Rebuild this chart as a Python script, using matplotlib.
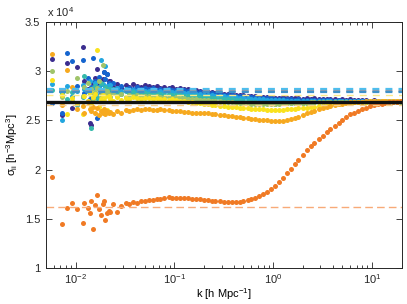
import numpy as np
import matplotlib
matplotlib.use('Agg')
from matplotlib import pyplot as plt

plt.rcParams['font.family'] = ['Liberation Sans', 'DejaVu Sans']
plt.rcParams['mathtext.fontset'] = 'custom'
plt.rcParams['mathtext.rm'] = 'Liberation Sans'
plt.rcParams['mathtext.it'] = 'Liberation Sans:italic'
plt.rcParams['lines.scale_dashes'] = False

# wavenumbers (h/Mpc): sparse low-k bins, then the dense part
k_low = [0.0058, 0.0072, 0.0081, 0.0091, 0.0102, 0.0118, 0.0122, 0.0132, 0.0138, 0.0143,
         0.0149, 0.0155, 0.0166, 0.0173, 0.0180, 0.0187, 0.0194, 0.0200, 0.0208, 0.0215]
k_high = [0.022, 0.024, 0.026, 0.029, 0.032, 0.035, 0.038, 0.042, 0.046, 0.050,
          0.055, 0.060, 0.066, 0.072, 0.079, 0.087, 0.095, 0.104, 0.114, 0.125,
          0.137, 0.150, 0.165, 0.18, 0.20, 0.22, 0.24, 0.26, 0.29, 0.32,
          0.35, 0.38, 0.42, 0.46, 0.50, 0.55, 0.60, 0.66, 0.72, 0.79,
          0.87, 0.95, 1.04, 1.14, 1.25, 1.37, 1.50, 1.65, 1.8, 2.0,
          2.2, 2.4, 2.6, 2.9, 3.2, 3.5, 3.8, 4.2, 4.6, 5.0,
          5.5, 6.0, 6.6, 7.2, 7.9, 8.7, 9.5, 10.4, 11.4, 12.5,
          13.7, 15.0, 16.5, 18.0, 19.8]

# sigma_ii in units of 1e4
indigo_low = [3.12, 2.55, 3.08, 2.63, 3.04, 3.24, 2.90, 2.82, 2.47, 2.45,
              2.88, 2.93, 3.02, 2.86, 2.79, 2.92, 2.99, 2.84, 2.97, 2.90]
indigo_high = [2.90, 2.84, 2.87, 2.83, 2.86, 2.84, 2.87, 2.85, 2.84, 2.86,
               2.85, 2.84, 2.85, 2.83, 2.84, 2.83, 2.84, 2.82, 2.83, 2.82,
               2.82, 2.81, 2.81, 2.80, 2.80, 2.79, 2.79, 2.78, 2.78, 2.77,
               2.77, 2.77, 2.76, 2.76, 2.76, 2.75, 2.75, 2.75, 2.74, 2.74,
               2.74, 2.74, 2.73, 2.73, 2.74, 2.73, 2.73, 2.73, 2.73, 2.72,
               2.73, 2.72, 2.73, 2.72, 2.72, 2.72, 2.72, 2.72, 2.71, 2.72,
               2.71, 2.72, 2.71, 2.71, 2.71, 2.71, 2.70, 2.71, 2.70, 2.70,
               2.70, 2.70, 2.70, 2.70, 2.70]

blue_low = [2.68, 2.58, 3.18, 3.10, 2.85, 3.11, 2.78, 2.93, 2.72, 2.84,
            3.13, 2.90, 2.52, 2.94, 2.87, 2.80, 2.99, 2.92, 2.97, 2.88]
blue_high = [2.80, 2.88, 2.82, 2.85, 2.81, 2.83, 2.82, 2.84, 2.82, 2.83,
             2.82, 2.83, 2.81, 2.82, 2.81, 2.82, 2.81, 2.81, 2.80, 2.81,
             2.80, 2.80, 2.79, 2.79, 2.78, 2.78, 2.78, 2.77, 2.77, 2.76,
             2.76, 2.76, 2.75, 2.75, 2.75, 2.74, 2.74, 2.74, 2.73, 2.73,
             2.73, 2.73, 2.72, 2.72, 2.72, 2.72, 2.72, 2.71, 2.72, 2.71,
             2.71, 2.71, 2.71, 2.71, 2.71, 2.71, 2.71, 2.70, 2.71, 2.70,
             2.70, 2.70, 2.70, 2.70, 2.70, 2.70, 2.70, 2.70, 2.70, 2.70,
             2.70, 2.70, 2.70, 2.70, 2.70]

lblue_low = [2.87, 2.50, 2.85, 2.75, 2.80, 2.86, 2.82, 2.70, 2.90, 2.78,
             2.83, 2.88, 2.76, 2.84, 3.11, 2.87, 2.81, 3.05, 2.85, 2.83]
lblue_high = [2.86, 2.78, 2.83, 2.80, 2.82, 2.79, 2.81, 2.80, 2.81, 2.80,
              2.80, 2.81, 2.79, 2.80, 2.79, 2.80, 2.79, 2.79, 2.78, 2.78,
              2.78, 2.78, 2.77, 2.77, 2.76, 2.76, 2.76, 2.75, 2.75, 2.75,
              2.74, 2.74, 2.74, 2.73, 2.73, 2.73, 2.72, 2.72, 2.72, 2.72,
              2.71, 2.71, 2.71, 2.71, 2.71, 2.70, 2.70, 2.70, 2.70, 2.70,
              2.70, 2.70, 2.70, 2.70, 2.70, 2.70, 2.70, 2.70, 2.70, 2.70,
              2.70, 2.70, 2.70, 2.70, 2.70, 2.70, 2.70, 2.70, 2.70, 2.70,
              2.70, 2.70, 2.70, 2.70, 2.70]

teal_low = [2.81, 2.78, 2.72, 2.79, 2.66, 2.74, 2.95, 2.80, 2.68, 2.42,
            2.77, 2.85, 2.73, 2.82, 2.88, 2.76, 2.80, 2.84, 2.79, 2.82]
teal_high = [2.76, 2.82, 2.79, 2.77, 2.80, 2.78, 2.79, 2.77, 2.78, 2.78,
             2.77, 2.78, 2.77, 2.77, 2.76, 2.77, 2.76, 2.76, 2.76, 2.75,
             2.75, 2.75, 2.75, 2.74, 2.74, 2.74, 2.73, 2.73, 2.73, 2.72,
             2.72, 2.72, 2.71, 2.71, 2.70, 2.70, 2.69, 2.69, 2.68, 2.68,
             2.68, 2.68, 2.67, 2.68, 2.68, 2.68, 2.68, 2.68, 2.68, 2.68,
             2.68, 2.69, 2.69, 2.69, 2.69, 2.69, 2.69, 2.69, 2.69, 2.69,
             2.69, 2.69, 2.69, 2.69, 2.69, 2.69, 2.69, 2.69, 2.69, 2.69,
             2.69, 2.69, 2.69, 2.69, 2.69]

green_low = [3.00, 2.74, 2.80, 2.70, 2.93, 2.75, 2.84, 2.88, 2.77, 2.82,
             2.72, 2.79, 2.83, 2.90, 2.76, 3.06, 2.81, 2.78, 2.80, 2.77]
green_high = [2.74, 2.79, 2.75, 2.77, 2.74, 2.76, 2.75, 2.76, 2.75, 2.75,
              2.75, 2.74, 2.75, 2.74, 2.74, 2.74, 2.73, 2.74, 2.73, 2.73,
              2.72, 2.72, 2.72, 2.71, 2.71, 2.71, 2.70, 2.70, 2.70, 2.69,
              2.69, 2.69, 2.68, 2.68, 2.68, 2.68, 2.67, 2.67, 2.67, 2.67,
              2.67, 2.67, 2.67, 2.67, 2.68, 2.68, 2.68, 2.68, 2.68, 2.68,
              2.68, 2.69, 2.69, 2.69, 2.69, 2.69, 2.69, 2.69, 2.69, 2.69,
              2.69, 2.69, 2.69, 2.69, 2.69, 2.69, 2.69, 2.69, 2.69, 2.69,
              2.69, 2.69, 2.69, 2.69, 2.69]

yellow_low = [2.91, 2.76, 2.56, 2.73, 2.68, 2.56, 2.75, 2.70, 2.79, 2.66,
              2.74, 2.77, 3.21, 2.64, 2.72, 2.76, 2.70, 2.74, 2.61, 2.75]
yellow_high = [2.72, 2.70, 2.74, 2.71, 2.73, 2.72, 2.74, 2.73, 2.72, 2.73,
               2.73, 2.72, 2.73, 2.72, 2.72, 2.71, 2.72, 2.71, 2.70, 2.70,
               2.69, 2.69, 2.68, 2.68, 2.67, 2.67, 2.66, 2.66, 2.65, 2.65,
               2.64, 2.64, 2.64, 2.63, 2.63, 2.63, 2.62, 2.62, 2.62, 2.62,
               2.61, 2.61, 2.61, 2.61, 2.61, 2.62, 2.62, 2.62, 2.63, 2.63,
               2.63, 2.64, 2.64, 2.65, 2.65, 2.66, 2.66, 2.67, 2.67, 2.68,
               2.68, 2.68, 2.69, 2.69, 2.69, 2.69, 2.70, 2.70, 2.70, 2.70,
               2.70, 2.70, 2.70, 2.70, 2.70]

gold_low = [3.17, 2.66, 3.01, 2.84, 2.62, 2.65, 2.58, 2.69, 2.62, 2.60,
            2.64, 2.57, 2.63, 2.55, 2.60, 2.58, 2.62, 2.56, 2.60, 2.57]
gold_high = [2.59, 2.56, 2.60, 2.58, 2.61, 2.60, 2.61, 2.62, 2.61, 2.62,
             2.62, 2.61, 2.61, 2.62, 2.61, 2.61, 2.60, 2.60, 2.60, 2.59,
             2.59, 2.58, 2.58, 2.58, 2.57, 2.57, 2.56, 2.56, 2.55, 2.55,
             2.54, 2.54, 2.53, 2.53, 2.52, 2.52, 2.51, 2.51, 2.50, 2.50,
             2.50, 2.49, 2.49, 2.49, 2.49, 2.50, 2.51, 2.52, 2.53, 2.55,
             2.57, 2.59, 2.60, 2.62, 2.63, 2.64, 2.65, 2.66, 2.67, 2.67,
             2.68, 2.69, 2.69, 2.69, 2.69, 2.70, 2.70, 2.70, 2.70, 2.70,
             2.70, 2.70, 2.70, 2.70, 2.70]

orange_low = [1.93, 1.45, 1.61, 1.66, 1.60, 1.46, 1.66, 1.61, 1.56, 1.68,
              1.40, 1.64, 1.74, 1.60, 1.54, 1.65, 1.68, 1.49, 1.56, 1.58]
orange_high = [1.57, 1.65, 1.57, 1.63, 1.66, 1.65, 1.67, 1.66, 1.68, 1.68,
               1.69, 1.69, 1.70, 1.70, 1.71, 1.72, 1.71, 1.71, 1.71, 1.71,
               1.71, 1.70, 1.70, 1.70, 1.69, 1.69, 1.68, 1.68, 1.68, 1.67,
               1.67, 1.67, 1.67, 1.67, 1.68, 1.69, 1.70, 1.71, 1.73, 1.75,
               1.77, 1.80, 1.83, 1.87, 1.92, 1.97, 2.01, 2.06, 2.10, 2.15,
               2.20, 2.24, 2.27, 2.31, 2.34, 2.38, 2.41, 2.44, 2.47, 2.50,
               2.53, 2.56, 2.58, 2.60, 2.62, 2.63, 2.645, 2.655, 2.665, 2.67,
               2.68, 2.685, 2.69, 2.69, 2.70]

series = [
    (indigo_low, indigo_high, '#3b2d8f'),
    (blue_low, blue_high, '#1565cf'),
    (lblue_low, lblue_high, '#22a6df'),
    (teal_low, teal_high, '#35b9ab'),
    (green_low, green_high, '#a0c46a'),
    (yellow_low, yellow_high, '#f9e21e'),
    (gold_low, gold_high, '#f6a91f'),
    (orange_low, orange_high, '#f07a24'),
]

# reference levels (1e4 units)
dash_levels = [2.82, 2.80, 2.785, 2.755, 2.66]
dash_colors = ['#4dbeee', '#8b9db0', '#3d90c9', '#fbe98a', '#f8cf8c']
orange_level = 1.62
black_level = 2.69

fig = plt.figure(figsize=(4.07, 3.04), dpi=100)
ax = fig.add_axes([0.113, 0.118, 0.874, 0.81])

for lo, hi, col in series:
    ax.plot(k_low + k_high, lo + hi, 'o', ms=3.6, mfc=col, mec='none')

for lev, col in zip(dash_levels, dash_colors):
    lw = 1.6 if lev > 2.77 else 1.0
    ax.axhline(lev, color=col, lw=lw, dashes=(5.0, 4.4))
ax.axhline(orange_level, color='#f8aa78', lw=1.0, dashes=(5.5, 3.0))
ax.axhline(black_level, color='#111111', lw=2.4)

ax.set_xscale('log')
ax.set_xlim(0.005, 20)
ax.set_ylim(1, 3.5)
ax.set_yticks([1, 1.5, 2, 2.5, 3, 3.5])
ax.set_yticklabels(['1', '1.5', '2', '2.5', '3', '3.5'])
ax.tick_params(which='both', direction='in', top=True, right=True,
               labelsize=8, width=0.6, colors='#262626')
ax.tick_params(axis='x', pad=3)
ax.tick_params(axis='y', pad=4)
ax.tick_params(which='major', length=4)
ax.tick_params(which='minor', length=2)
for sp in ax.spines.values():
    sp.set_linewidth(0.7)
    sp.set_color('#262626')

ax.set_xlabel('k [h Mpc$^{-1}$]', fontsize=8, labelpad=0)
ax.set_ylabel('σ$_{\\mathrm{ii}}$ [h$^{-3}$Mpc$^3$]', fontsize=8, labelpad=4)
fig.text(0.115, 0.945, 'x 10$^4$', fontsize=8, color='#262626')

fig.savefig('out.png', dpi=100)
